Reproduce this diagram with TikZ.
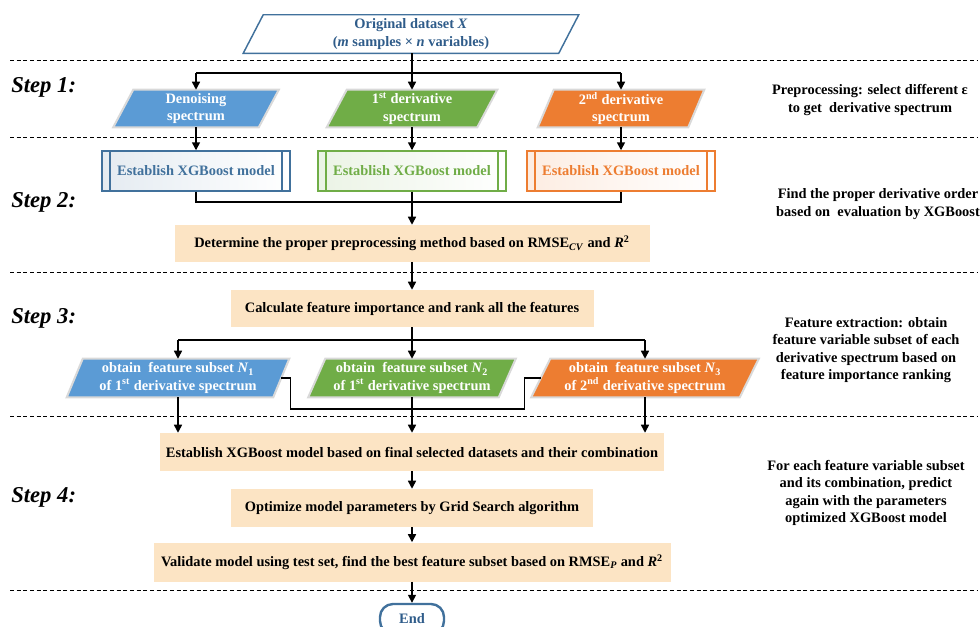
\documentclass[tikz,border=0pt]{standalone}
\usepackage{fontspec}
\setmainfont{Liberation Serif}
\usetikzlibrary{arrows.meta,backgrounds,calc}
\newcommand\pxu{0.75pt}
\definecolor{cblue}{HTML}{5B9BD5}
\definecolor{cgreen}{HTML}{70AD47}
\definecolor{corange}{HTML}{ED7D31}
\definecolor{dblue}{HTML}{41719C}
\definecolor{tblue}{HTML}{2F5C8A}
\definecolor{peach}{HTML}{FCE4C4}
% #1 name, #2 cx, #3 cy, #4 w, #5 h, #6 skew, #7 shape style, #8 text colour, #9 text
\newcommand\pgram[9]{%
  \node[ptext, text=#8, minimum width=#4*\pxu, minimum height=#5*\pxu] (#1) at (#2,#3) {#9};
  \begin{pgfonlayer}{background}
    \filldraw[#7] ([xshift=-#6*\pxu/2]#1.south west) -- ([xshift=#6*\pxu/2]#1.north west)
      -- ([xshift=#6*\pxu/2]#1.north east) -- ([xshift=-#6*\pxu/2]#1.south east) -- cycle;
  \end{pgfonlayer}}
\begin{document}
\begin{tikzpicture}[x=0.75pt,y=-0.75pt,
  txt/.style={font=\bfseries\fontsize{10.8}{13}\selectfont, align=center, inner sep=0pt},
  ptext/.style={txt,text=white},
  conn/.style={draw=black,line width=1.1pt},
  arr/.style={conn,-{Triangle[length=6pt,width=6pt]}},
  sep/.style={draw=black,line width=0.6pt,dash pattern=on 3pt off 2pt},
  peachbox/.style={txt,fill=peach},
  pshape/.style={fill=#1,draw=black!15,line width=1.5pt},
  xbox/.style={txt,draw=#1,line width=1.1pt,left color=#1!14!white,right color=white,text=#1,
    minimum width=188*\pxu,minimum height=40*\pxu,
    path picture={\draw[#1,line width=1.1pt]
      ([xshift=8*\pxu]path picture bounding box.north west) -- ([xshift=8*\pxu]path picture bounding box.south west)
      ([xshift=-8*\pxu]path picture bounding box.north east) -- ([xshift=-8*\pxu]path picture bounding box.south east);}},
  steplab/.style={font=\bfseries\itshape\fontsize{17}{20}\selectfont,anchor=west,inner sep=0pt},
  note/.style={txt,text=black},
]
\useasboundingbox (0,0) rectangle (980,626);

% separators
\draw[sep] (10,60) -- (978,60);
\draw[sep] (10,137) -- (978,137);
\draw[sep] (10,272) -- (978,272);
\draw[sep] (10,416) -- (978,416);
\draw[sep] (10,590) -- (978,590);

% step labels
\node[steplab] (s1) at (11,87) {Step 1:};
\node[steplab] (s2) at (11,202) {Step 2:};
\node[steplab] (s3) at (11,318) {Step 3:};
\node[steplab] (s4) at (11,497) {Step 4:};

% top
\pgram{top}{411}{34}{315}{38}{20}{fill=white,draw=dblue,line width=1.1pt}{tblue}{Original dataset \textit{X}\\(\textit{m} samples × \textit{n} variables)}

% row 1
\pgram{p1b}{196}{108.5}{145}{37}{20}{pshape=cblue}{white}{Denoising\\spectrum}
\pgram{p1g}{412}{108.5}{150}{37}{20}{pshape=cgreen}{white}{1\textsuperscript{st} derivative\\spectrum}
\pgram{p1o}{621}{108.5}{150}{37}{16}{pshape=corange}{white}{2\textsuperscript{nd} derivative\\spectrum}

\coordinate (t1) at (412,73);
\draw[conn] (t1 -| p1b.north) -- (t1 -| p1o.north);
\draw[arr] (t1 -| p1b.north) -- (p1b.north);
\draw[arr] (t1 -| p1o.north) -- (p1o.north);
\draw[arr] (top.south -| p1g.north) -- (p1g.north);

% row 2
\node[xbox=dblue] (x1b) at (196,171) {Establish XGBoost model};
\node[xbox=cgreen] (x1g) at (412,171) {Establish XGBoost model};
\node[xbox=corange] (x1o) at (621,171) {Establish XGBoost model};
\draw[arr] (p1b.south) -- (x1b.north);
\draw[arr] (p1g.south) -- (x1g.north);
\draw[arr] (p1o.south) -- (x1o.north);

\node[peachbox, minimum width=475*\pxu, minimum height=37*\pxu] (det) at (412,243.5)
  {Determine the proper preprocessing method based on RMSE\textsubscript{\textit{CV}} and \textit{R}\textsuperscript{2}};
\coordinate (j2) at (412,202);
\draw[conn] (x1b.south) |- (j2) -| (x1o.south);
\draw[arr] (x1g.south) -- (det.north);

% step 3
\node[peachbox, minimum width=363*\pxu, minimum height=37*\pxu] (calc) at (412,308.5)
  {Calculate feature importance and rank all the features};
\draw[arr] (det.south) -- (calc.north);

\pgram{p3b}{178}{378}{206}{38}{16}{pshape=cblue}{white}{obtain\ \ feature subset \textit{N}\textsubscript{1}\\of 1\textsuperscript{st} derivative spectrum}
\pgram{p3g}{412}{378}{190}{38}{17}{pshape=cgreen}{white}{obtain\ \ feature subset \textit{N}\textsubscript{2}\\of 1\textsuperscript{st} derivative spectrum}
\pgram{p3o}{645}{378}{208}{38}{19}{pshape=corange}{white}{obtain\ \ feature subset \textit{N}\textsubscript{3}\\of 2\textsuperscript{nd} derivative spectrum}

\coordinate (j3) at (412,340);
\draw[conn] (calc.south) -- (j3);
\draw[conn] (j3 -| p3b.north) -- (j3 -| p3o.north);
\draw[arr] (j3 -| p3b.north) -- (p3b.north);
\draw[arr] (j3) -- (p3g.north);
\draw[arr] (j3 -| p3o.north) -- (p3o.north);
\draw[conn] (p3b.east) -- ++(9,0) |- ($(p3o.west)+(-16,31)$) |- (p3o.west);

% step 4
\node[peachbox, minimum width=504*\pxu, minimum height=38*\pxu] (est) at (412,452)
  {Establish XGBoost model based on final selected datasets and their combination};
\node[peachbox, minimum width=362*\pxu, minimum height=38*\pxu] (opt) at (412,508)
  {Optimize model parameters by Grid Search algorithm};
\node[peachbox, minimum width=517*\pxu, minimum height=39*\pxu] (val) at (412,562)
  {Validate model using test set, find the best feature subset based on RMSE\textsubscript{\textit{P}} and \textit{R}\textsuperscript{2}};
\node[txt, draw=dblue, line width=1.8pt, rounded corners=13*\pxu, fill=white, text=tblue,
  minimum width=64*\pxu, minimum height=30*\pxu] (end) at (412,619) {End};

\draw[arr] (p3b.south) -- (p3b.south |- est.north);
\draw[arr] (p3g.south) -- (est.north);
\draw[arr] (p3o.south) -- (p3o.south |- est.north);
\draw[arr] (est.south) -- (opt.north);
\draw[arr] (opt.south) -- (val.north);
\draw[arr] (val.south) -- (end.north);

% notes
\node[note] (n1) at (870,100) {Preprocessing: select different ε\\to get\ \ derivative spectrum};
\node[note] (n2) at (878,204) {Find the proper derivative order\\based on\ \ evaluation by XGBoost};
\node[note] (n3) at (866,350) {Feature extraction: obtain\\feature variable subset of each\\derivative spectrum based on\\feature importance ranking};
\node[note] (n4) at (866,493) {For each feature variable subset\\and its combination, predict\\again with the parameters\\optimized XGBoost model};
\end{tikzpicture}
\end{document}
